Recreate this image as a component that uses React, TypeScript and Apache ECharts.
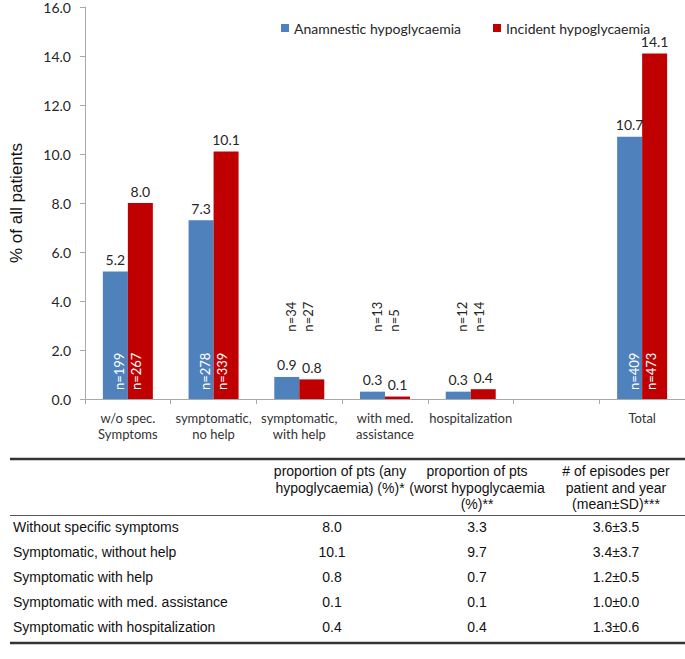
import React, { useEffect, useRef } from "react";
import * as echarts from "echarts";

const categories = [
  "w/o spec.\nSymptoms",
  "symptomatic,\nno help",
  "symptomatic,\nwith help",
  "with med.\nassistance",
  "hospitalization",
  "",
  "Total",
];
const anamnestic = [5.2, 7.3, 0.9, 0.3, 0.3, null, 10.7];
const incident = [8.0, 10.1, 0.8, 0.1, 0.4, null, 14.1];
const anamN = [199, 278, 34, 13, 12, null, 409];
const incN = [267, 339, 27, 5, 14, null, 473];
const seriesNames = ["Anamnestic hypoglycaemia", "Incident hypoglycaemia"];
const yTicks = { min: 0, max: 16, interval: 2 };

const tableRowLabels = [
  "Without specific symptoms",
  "Symptomatic, without help",
  "Symptomatic with help",
  "Symptomatic with med. assistance",
  "Symptomatic with hospitalization",
];
const colAnyHypo = ["8.0", "10.1", "0.8", "0.1", "0.4"];
const colWorstHypo = ["3.3", "9.7", "0.7", "0.1", "0.4"];
const colEpisodes = ["3.6±3.5", "3.4±3.7", "1.2±0.5", "1.0±0.0", "1.3±0.6"];
const headerAny = ["proportion of pts (any", "hypoglycaemia) (%)*"];
const headerWorst = ["proportion of pts", "(worst hypoglycaemia", "(%)**"];
const headerEpisodes = ["# of episodes per", "patient and year", "(mean±SD)***"];

const BLUE = "#4F81BD";
const RED = "#C00000";
const AXIS = "#A9A9A9";
const CHART_FONT = "Lato, 'Open Sans', sans-serif";
const TABLE_FONT = "'Liberation Sans', Arial, sans-serif";

export default function App() {
  const ref = useRef<HTMLDivElement>(null);

  useEffect(() => {
    if (!ref.current) return;
    const chart = echarts.init(ref.current, null, { renderer: "svg" });

    const tableFont = "14px " + TABLE_FONT;
    const colX = [332, 477, 616];
    const headerX = [340, 477, 616];
    const headerY = [471, 488, 504];
    const rowY0 = 527;
    const rowStep = 25;
    const graphic: any[] = [];
    graphic.push({ type: "line", shape: { x1: 10, y1: 459, x2: 685, y2: 459 }, style: { stroke: "#333", lineWidth: 2.5 } });
    graphic.push({ type: "line", shape: { x1: 10, y1: 515.5, x2: 685, y2: 515.5 }, style: { stroke: "#555", lineWidth: 1 } });
    graphic.push({ type: "line", shape: { x1: 10, y1: 643, x2: 685, y2: 643 }, style: { stroke: "#333", lineWidth: 2.5 } });
    [headerAny, headerWorst, headerEpisodes].forEach((lines, c) => {
      lines.forEach((t, k) => {
        graphic.push({
          type: "text",
          x: headerX[c],
          y: headerY[k],
          style: { text: t, font: tableFont, fill: "#111", align: "center", verticalAlign: "middle" },
        });
      });
    });
    tableRowLabels.forEach((label, r) => {
      const y = rowY0 + r * rowStep;
      graphic.push({ type: "text", x: 13, y, style: { text: label, font: tableFont, fill: "#111", align: "left", verticalAlign: "middle" } });
      [colAnyHypo[r], colWorstHypo[r], colEpisodes[r]].forEach((v, c) => {
        graphic.push({ type: "text", x: colX[c], y, style: { text: v, font: tableFont, fill: "#111", align: "center", verticalAlign: "middle" } });
      });
    });

    const nData = categories.map((_, i) => [i, anamN[i], incN[i], anamnestic[i], incident[i]]);

    const valueLabel = {
      show: true,
      position: "top",
      distance: 5,
      color: "#262626",
      fontSize: 14,
      fontFamily: CHART_FONT,
      formatter: (p: any) => (p.value == null ? "" : Number(p.value).toFixed(1)),
    };

    chart.setOption({
      animation: false,
      textStyle: { fontFamily: CHART_FONT },
      grid: { left: 70, right: 0, top: 7, bottom: 260, containLabel: false },
      legend: {
        data: seriesNames,
        left: 276,
        top: 16,
        icon: "rect",
        itemWidth: 8,
        itemHeight: 8,
        itemGap: 32,
        textStyle: { fontSize: 14, color: "#262626", fontFamily: CHART_FONT },
      },
      xAxis: {
        type: "category",
        data: categories,
        axisLine: { lineStyle: { color: AXIS } },
        axisTick: { show: true, length: 5, lineStyle: { color: AXIS } },
        axisLabel: {
          interval: 0,
          margin: 11,
          fontSize: 13,
          lineHeight: 16,
          color: "#333",
          fontFamily: CHART_FONT,
        },
      },
      yAxis: {
        type: "value",
        min: yTicks.min,
        max: yTicks.max,
        interval: yTicks.interval,
        name: "% of all patients",
        nameLocation: "middle",
        nameGap: 60,
        nameTextStyle: { fontSize: 17, color: "#111", fontFamily: TABLE_FONT },
        splitLine: { show: false },
        axisLine: { show: true, lineStyle: { color: AXIS } },
        axisTick: { show: true, length: 5, lineStyle: { color: AXIS } },
        axisLabel: {
          margin: 14,
          fontSize: 14,
          color: "#262626",
          fontFamily: CHART_FONT,
          formatter: (v: number) => v.toFixed(1),
        },
      },
      series: [
        {
          name: seriesNames[0],
          type: "bar",
          data: anamnestic,
          barWidth: 25,
          barGap: "0%",
          itemStyle: { color: BLUE },
          label: valueLabel,
        },
        {
          name: seriesNames[1],
          type: "bar",
          data: incident,
          barWidth: 25,
          barGap: "0%",
          itemStyle: { color: RED },
          label: valueLabel,
        },
        {
          type: "custom",
          silent: true,
          z: 10,
          data: nData,
          encode: { x: 0, y: 3 },
          renderItem: (params: any, api: any) => {
            const i = api.value(0);
            const nA = api.value(1);
            const nI = api.value(2);
            const vA = api.value(3);
            const vI = api.value(4);
            const children: any[] = [];
            const center = api.coord([i, 0]);
            const pairs = [
              { n: nA, v: vA, dx: -8.5 },
              { n: nI, v: vI, dx: 8.5 },
            ];
            pairs.forEach((p) => {
              if (p.n == null || isNaN(p.n)) return;
              const inside = p.v > 3;
              const y = inside ? center[1] - 9 : api.coord([i, 2.75])[1];
              children.push({
                type: "text",
                x: center[0] + p.dx,
                y,
                rotation: Math.PI / 2,
                style: {
                  text: "n=" + p.n,
                  fill: inside ? "#ffffff" : "#262626",
                  font: "13px " + CHART_FONT,
                  align: "left",
                  verticalAlign: "middle",
                },
              });
            });
            return { type: "group", children };
          },
        },
      ],
      graphic,
    });

    return () => chart.dispose();
  }, []);

  return (
    <div
      ref={ref}
      style={{ position: "fixed", left: 0, top: 0, width: 685, height: 659, background: "#fff" }}
    />
  );
}
